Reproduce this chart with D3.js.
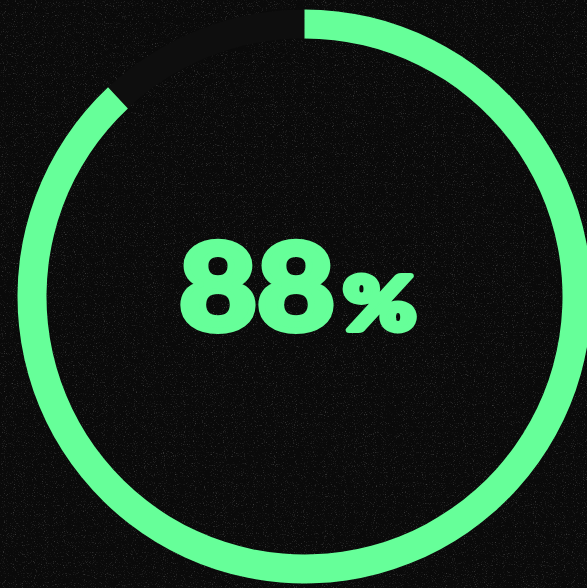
<!DOCTYPE html>
<html>
<head>
<meta charset="utf-8">
<script src="https://cdn.jsdelivr.net/npm/d3@7"></script>
<style>
  html, body { margin: 0; padding: 0; background: #0a0a0a; overflow: hidden; }
</style>
</head>
<body>
<script>
// progress value (percent)
const progress = [88];
const total = [100];
const unit = ["%"];

const width = 587;
const height = 588;
const cx = 304.5;
const cy = 296.5;

const svg = d3
  .select("body")
  .append("svg")
  .attr("width", width)
  .attr("height", height);

// grainy background
const defs = svg.append("defs");
const noise = defs.append("filter").attr("id", "grain").attr("x", 0).attr("y", 0).attr("width", "100%").attr("height", "100%");
noise.append("feTurbulence")
  .attr("type", "fractalNoise")
  .attr("baseFrequency", 0.9)
  .attr("numOctaves", 2)
  .attr("seed", 3)
  .attr("result", "t");
noise.append("feColorMatrix")
  .attr("type", "matrix")
  .attr("values", "0 0 0 0 0.45  0 0 0 0 0.45  0 0 0 0 0.45  0 0 0 1.6 -0.95");

svg.append("rect").attr("width", width).attr("height", height).attr("fill", "#0a0a0a");
svg.append("rect").attr("width", width).attr("height", height).attr("filter", "url(#grain)").attr("opacity", 0.6);

const scale = d3.scaleLinear().domain([0, total[0]]).range([0, 2 * Math.PI]);

const arc = d3.arc().innerRadius(258).outerRadius(287);

const g = svg.append("g").attr("transform", `translate(${cx},${cy})`);

// remaining track
g.append("path")
  .attr("d", arc({ startAngle: scale(progress[0]), endAngle: scale(total[0]) }))
  .attr("fill", "#0e0e0e");

// progress arc
g.append("path")
  .attr("d", arc({ startAngle: 0, endAngle: scale(progress[0]) }))
  .attr("fill", "#66ff99");

// heavy label: thickened with a stroke and widened a little
function heavyText(x, y, sx, size, txt) {
  svg.append("text")
    .attr("transform", `translate(${x},${y}) scale(${sx},1)`)
    .attr("fill", "#66ff99")
    .attr("stroke", "#66ff99")
    .attr("stroke-width", 6)
    .attr("stroke-linejoin", "round")
    .style("font-family", "Lato, Inter, sans-serif")
    .style("font-weight", 900)
    .style("font-size", size + "px")
    .text(txt);
}

heavyText(179, 330, 1.12, 120, progress[0]);
heavyText(343, 330, 1.2, 74, unit[0]);
</script>
</body>
</html>
